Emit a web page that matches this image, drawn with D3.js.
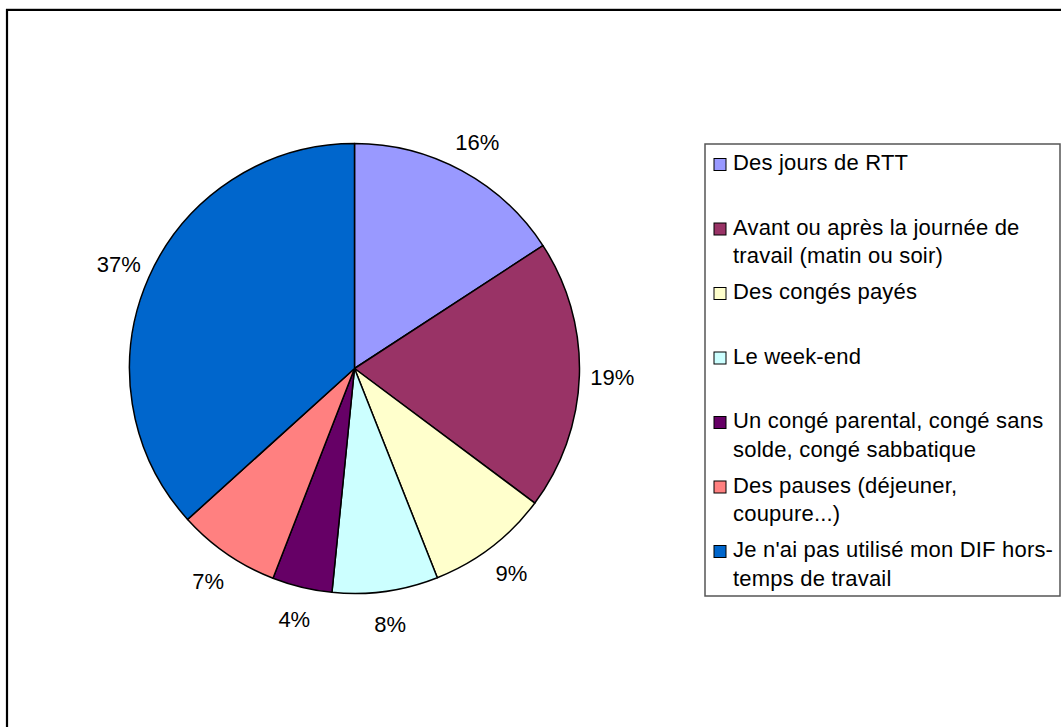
<!DOCTYPE html>
<html>
<head>
<meta charset="utf-8">
<script src="https://cdn.jsdelivr.net/npm/d3@7"></script>
<style>
  body { margin: 0; background: #fff; }
  svg { display: block; font-family: Arial, "Liberation Sans", sans-serif; }
</style>
</head>
<body>
<div id="pieChart"></div>
<script>
// categories, values (percent) and colours
const categories = [
  ['Des jours de RTT'],
  ['Avant ou après la journée de', 'travail (matin ou soir)'],
  ['Des congés payés'],
  ['Le week-end'],
  ['Un congé parental, congé sans', 'solde, congé sabbatique'],
  ['Des pauses (déjeuner,', 'coupure...)'],
  ["Je n'ai pas utilisé mon DIF hors-", 'temps de travail']
]
const values = [15.8, 19.4, 8.8, 7.6, 4.3, 7.4, 36.7]
const colors = ['#9999FF', '#993366', '#FFFFCC', '#CCFFFF', '#660066', '#FF8080', '#0066CC']

const sWidth = 1061, sHeight = 727
const center = { x: 354.5, y: 368.5 }
const radius = 225
const labelRadius = 258

const svg = d3.select('#pieChart').append('svg')
  .attr('width', sWidth)
  .attr('height', sHeight)

// outer frame (right and bottom run off the picture)
svg.append('line')
  .attr('x1', 6).attr('x2', sWidth).attr('y1', 8.5).attr('y2', 8.5)
  .attr('stroke', '#c8c8c8').attr('stroke-width', 1)
svg.append('path')
  .attr('d', `M7,${sHeight} V10 H${sWidth}`)
  .attr('fill', 'none')
  .attr('stroke', '#000')
  .attr('stroke-width', 2.2)

const pie = d3.pie().sort(null).value(d => d)
const arcs = pie(values)
const arc = d3.arc().innerRadius(0).outerRadius(radius)
const labelArc = d3.arc().innerRadius(labelRadius).outerRadius(labelRadius)

const g = svg.append('g')
  .attr('transform', 'translate(' + center.x + ',' + center.y + ')')

g.selectAll('path')
  .data(arcs)
  .join('path')
    .attr('d', arc)
    .attr('fill', (d, i) => colors[i])
    .attr('stroke', '#000')
    .attr('stroke-width', 1.5)
    .attr('stroke-linejoin', 'round')

g.selectAll('text')
  .data(arcs)
  .join('text')
    .attr('transform', d => 'translate(' + labelArc.centroid(d) + ')')
    .attr('text-anchor', 'middle')
    .attr('dy', '0.36em')
    .style('font-size', '22px')
    .attr('fill', '#000')
    .text(d => Math.round(d.data) + '%')

// legend
const legend = svg.append('g')
legend.append('rect')
  .attr('x', 705).attr('y', 144)
  .attr('width', 355).attr('height', 452)
  .attr('fill', '#fff')
  .attr('stroke', '#555')
  .attr('stroke-width', 1.5)

const rowY = d3.scaleLinear().domain([0, categories.length - 1]).range([170, 557])

const items = legend.selectAll('g.item')
  .data(categories)
  .join('g')
    .attr('class', 'item')
    .attr('transform', (d, i) => 'translate(0,' + rowY(i) + ')')

items.append('rect')
  .attr('x', 714).attr('y', -11.5)
  .attr('width', 12).attr('height', 12)
  .attr('fill', (d, i) => colors[i])
  .attr('stroke', '#000')
  .attr('stroke-width', 1)

items.selectAll('text')
  .data(d => d)
  .join('text')
    .attr('x', 733)
    .attr('y', (d, j) => j * 28.5)
    .style('font-size', '22px')
    .style('letter-spacing', '0.2px')
    .attr('fill', '#000')
    .text(d => d)
</script>
</body>
</html>
